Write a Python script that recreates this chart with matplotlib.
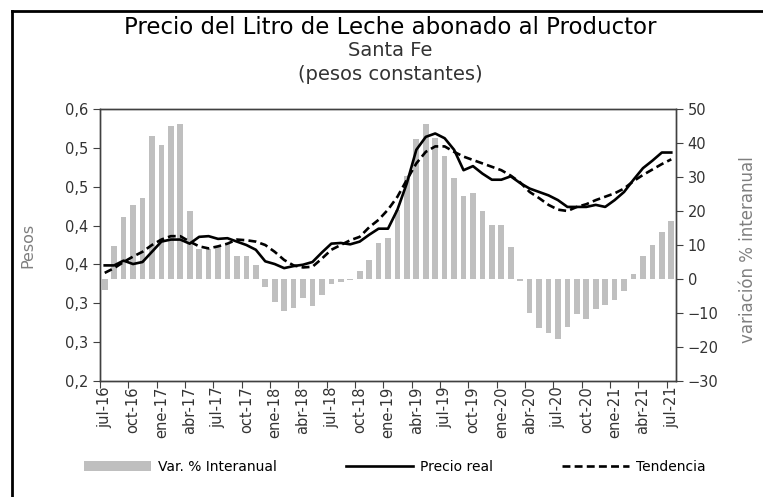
import matplotlib
matplotlib.use("Agg")
import matplotlib.pyplot as plt
import numpy as np
from matplotlib.lines import Line2D
from matplotlib.ticker import FuncFormatter

# jul-16 .. jul-21, mensual
tick_labels = ["jul-16", "oct-16", "ene-17", "abr-17", "jul-17", "oct-17", "ene-18",
               "abr-18", "jul-18", "oct-18", "ene-19", "abr-19", "jul-19", "oct-19",
               "ene-20", "abr-20", "jul-20", "oct-20", "ene-21", "abr-21", "jul-21"]

var_interanual = [-3.3, 9.8, 18.2, 21.9, 23.7, 42.0, 39.3, 44.9, 45.7, 20.1,
                  8.8, 8.8, 9.5, 10.4, 6.9, 6.9, 4.2, -2.4, -6.8, -9.3,
                  -8.6, -5.6, -7.8, -4.8, -1.5, -1.0, -0.3, 2.3, 5.7, 10.6,
                  12.2, 20.4, 30.4, 41.2, 45.7, 41.5, 36.3, 29.8, 24.5, 25.2,
                  20.0, 15.8, 15.8, 9.5, -0.6, -10.1, -14.5, -16.0, -17.5, -14.0,
                  -10.2, -11.8, -8.7, -7.6, -6.1, -3.5, 1.6, 6.9, 9.9, 13.8, 17.0]

precio_real = [0.370, 0.370, 0.377, 0.372, 0.375, 0.390, 0.405, 0.408, 0.408, 0.402,
               0.412, 0.413, 0.409, 0.410, 0.405, 0.400, 0.393, 0.376, 0.372, 0.366,
               0.369, 0.371, 0.375, 0.389, 0.402, 0.403, 0.401, 0.405, 0.415, 0.424,
               0.424, 0.452, 0.491, 0.540, 0.559, 0.564, 0.557, 0.540, 0.510, 0.516,
               0.505, 0.496, 0.496, 0.501, 0.491, 0.483, 0.478, 0.473, 0.466, 0.456,
               0.456, 0.456, 0.459, 0.456, 0.466, 0.478, 0.496, 0.513, 0.524, 0.536, 0.536]

tendencia = [0.359, 0.366, 0.375, 0.383, 0.390, 0.400, 0.408, 0.413, 0.413, 0.405,
             0.398, 0.395, 0.398, 0.402, 0.408, 0.407, 0.405, 0.400, 0.390, 0.378,
             0.370, 0.367, 0.368, 0.380, 0.393, 0.400, 0.407, 0.412, 0.426, 0.437,
             0.452, 0.471, 0.496, 0.520, 0.537, 0.545, 0.545, 0.537, 0.530, 0.525,
             0.520, 0.515, 0.510, 0.502, 0.492, 0.478, 0.469, 0.459, 0.452, 0.450,
             0.456, 0.460, 0.466, 0.471, 0.476, 0.483, 0.494, 0.503, 0.511, 0.519, 0.526]

n = len(precio_real)
x = np.arange(n)

fig = plt.figure(figsize=(7.63, 4.97), dpi=100)
ax = fig.add_axes([100/763, 1-381/497, 576/763, 272/497])
ax2 = ax.twinx()

bars = ax2.bar(x, var_interanual, width=0.6, color="#BFBFBF", zorder=1, label="Var. % Interanual")
ax2.set_ylim(-30, 50)
ax2.set_yticks(np.arange(-30, 51, 10))

# lineas sobre las barras
ax.set_zorder(ax2.get_zorder() + 1)
ax.patch.set_visible(False)
l1, = ax.plot(x, precio_real, color="black", lw=1.9, label="Precio real")
l2, = ax.plot(x, tendencia, color="black", lw=1.9, ls=(0, (3, 1.6)), label="Tendencia")

ax.set_ylim(0.2, 0.6)
ax.set_yticks(np.linspace(0.2, 0.6, 8))
ax.yaxis.set_major_formatter(FuncFormatter(lambda v, p: ("%.1f" % v).replace(".", ",")))
ax.set_xlim(-0.5, n - 0.5)
ax.set_xticks(np.arange(-0.5, n - 1, 3))
ax.set_xticklabels([])
ax.set_xticks(np.arange(0, n, 3), minor=True)
ax.set_xticklabels(tick_labels, minor=True, rotation=90)
ax.tick_params(axis="x", which="minor", length=0, pad=4)

spine_col = "#404040"
txt_col = "#333333"
for a in (ax, ax2):
    for s in a.spines.values():
        s.set_color(spine_col)
        s.set_linewidth(1.0)
    a.tick_params(colors=spine_col, labelcolor=txt_col, labelsize=10.5, direction="out", length=5)
ax.tick_params(axis="x", which="minor", labelsize=10.5, labelcolor=txt_col)

fig.text(28/763, 1-245/497, "Pesos", rotation=90, ha="center", va="center", fontsize=11.5, color="#7F7F7F")
fig.text(748/763, 1-250/497, "variación % interanual", rotation=90, ha="center", va="center",
         fontsize=12, color="#7F7F7F")

fig.text(390/763, 1-27/497, "Precio del Litro de Leche abonado al Productor", ha="center", va="center",
         fontsize=16.5, color="black")
fig.text(390/763, 1-50/497, "Santa Fe", ha="center", va="center", fontsize=14, color="#333333")
fig.text(390/763, 1-74/497, "(pesos constantes)", ha="center", va="center", fontsize=14, color="#333333")

fig.legend([bars, l1, l2], ["Var. % Interanual", "Precio real", "Tendencia"], ncol=3,
           loc="center", bbox_to_anchor=(395/763, 1-467/497), frameon=False, fontsize=10,
           handlelength=4.8, columnspacing=5.0, handletextpad=0.5)

fig.add_artist(Line2D([12/763, 12/763], [0, 1-11/497], color="black", lw=2, transform=fig.transFigure))
fig.add_artist(Line2D([12/763, 1], [1-11/497, 1-11/497], color="black", lw=2, transform=fig.transFigure))

fig.savefig("out.png", dpi=100)
